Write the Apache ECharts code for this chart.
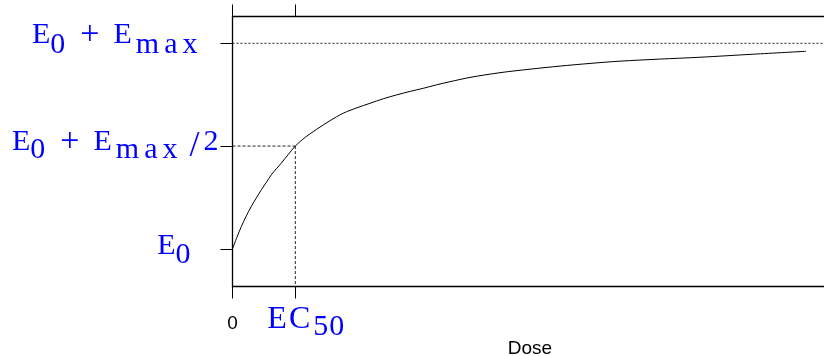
<!DOCTYPE html>
<html><head><meta charset="utf-8">
<script src="https://cdn.jsdelivr.net/npm/echarts@6/dist/echarts.min.js"></script>
<style>html,body{margin:0;padding:0;background:#fff}#c{width:824px;height:356px}</style>
</head><body><div id="c"></div>
<script>
// Dose in units of EC50; effect scaled so that E0 = 0 and E0 + Emax = 1
const curveDose   = [0, 0.070, 0.140, 0.220, 0.299, 0.380, 0.459, 0.540, 0.618, 0.700, 0.777, 0.890, 1.0, 1.160, 1.338, 1.550, 1.764, 1.980, 2.189, 2.400, 2.615, 2.830, 3.038, 3.250, 3.463, 3.782, 4.260, 4.737, 5.215, 5.693, 6.170, 6.800, 7.444, 8.300, 9.132];
const curveEffect = [0, 0.056, 0.108, 0.160, 0.206, 0.248, 0.287, 0.324, 0.360, 0.390, 0.417, 0.460, 0.500, 0.543, 0.581, 0.623, 0.660, 0.686, 0.708, 0.730, 0.749, 0.766, 0.781, 0.798, 0.813, 0.834, 0.857, 0.874, 0.889, 0.902, 0.913, 0.923, 0.932, 0.947, 0.961];
const E0 = 0, HALF_LEVEL = 0.5, TOP_LEVEL = 1, EC50 = 1;
const xTickValues = [0, EC50];
const xTickLabels = ['0', 'EC50'];
const yTickValues = [E0, HALF_LEVEL, TOP_LEVEL];
const yTickLabels = ['E0', 'E0 + Emax/2', 'E0 + Emax'];
const xAxisName = 'Dose';
const upperRef = [[0, TOP_LEVEL], [12, TOP_LEVEL]];
const halfRef  = [[0, HALF_LEVEL], [EC50, HALF_LEVEL]];
const ec50Ref  = [[EC50, HALF_LEVEL], [EC50, -1]];

const X_MAX = 600 / 62.8, Y_MIN = -0.1833, Y_MAX = 1.1303;
const BLUE = '#0000ff', SERIF = 'Liberation Serif', SANS = 'Liberation Sans';

function richSet(k, H, sub, R) {
  const t = (extra) => Object.assign({fontFamily: SERIF, fontSize: 30, color: BLUE, height: 30, lineHeight: H, verticalAlign: 'top'}, extra);
  return {
    [k+'E']:  t({padding: [0, 0, 0, 0]}),
    [k+'E2']: t({padding: [0, 0, 0, 10]}),
    [k+'p']:  t({fontSize: 34, padding: [0, 4, 0, 15]}),
    [k+'s0']: t({padding: [sub, k === 'b' ? R : 0, 0, 0]}),
    [k+'m']:  t({padding: [sub, 5, 0, 4]}),
    [k+'a']:  t({padding: [sub, 5, 0, 0]}),
    [k+'x']:  t({padding: [sub, k === 't' ? R : 0, 0, 0]}),
    [k+'sl']: t({fontSize: 36, padding: [4, 0, 0, 12]}),
    [k+'two']:t({padding: [0, R, 0, 4]})
  };
}
const yRich = Object.assign({}, richSet('t', 46, 10, 21), richSet('m', 38, 8, 0), richSet('b', 34.6, 9, 28));

function yLabel(v) {
  const txt = yTickLabels[yTickValues.indexOf(v)];
  if (txt === 'E0') return '{bE|E}{bs0|0}';
  if (txt === 'E0 + Emax/2') return '{mE|E}{ms0|0}{mp|+}{mE2|E}{mm|m}{ma|a}{mx|x}{msl|/}{mtwo|2}';
  return '{tE|E}{ts0|0}{tp|+}{tE2|E}{tm|m}{ta|a}{tx|x}';
}
function xLabel(v) {
  const txt = xTickLabels[xTickValues.indexOf(v)];
  if (txt === 'EC50') return '{eE|E}{eC|C}{e5|5}{e0|0}';
  return '{z|' + txt + '}';
}
const xs = (extra) => Object.assign({fontFamily: SERIF, fontSize: 32, color: BLUE, height: 30, lineHeight: 30, verticalAlign: 'top'}, extra);
const xRich = {
  z:  {fontFamily: SANS, fontSize: 19, color: '#000', height: 20, lineHeight: 30, verticalAlign: 'top', padding: [10.2, 0, 0, 0]},
  eE: xs({padding: [1.1, 0, 0, 21]}),
  eC: xs({padding: [1.1, 0, 0, 2]}),
  e5: xs({fontSize: 30, padding: [8.7, 0, 0, 3]}),
  e0: xs({fontSize: 30, padding: [8.7, 0, 0, 1]})
};

const chart = echarts.init(document.getElementById('c'), null, {renderer: 'canvas'});
const tickStyle = {color: '#000', width: 1};
chart.setOption({
  animation: false,
  backgroundColor: '#fff',
  grid: {left: 232.5, top: 16.5, width: 600, height: 270, show: true, borderColor: '#000', borderWidth: 1.3,
         backgroundColor: 'transparent', containLabel: false, outerBoundsMode: 'none'},
  xAxis: [{
    type: 'value', min: 0, max: X_MAX, position: 'bottom',
    axisLine: {show: false, onZero: false}, splitLine: {show: false},
    axisTick: {show: true, length: 12, customValues: xTickValues, lineStyle: tickStyle},
    axisLabel: {show: true, customValues: xTickValues, formatter: xLabel, rich: xRich, margin: 16.6},
    name: xAxisName, nameLocation: 'middle', nameGap: 52, nameMoveOverlap: false,
    nameTextStyle: {fontFamily: SANS, fontSize: 19, color: '#000', lineHeight: 20, padding: [0, 5, 0, 0]}
  }, {
    type: 'value', min: 0, max: X_MAX, position: 'top',
    axisLine: {show: false, onZero: false}, splitLine: {show: false},
    axisTick: {show: true, length: 12, customValues: xTickValues, lineStyle: tickStyle},
    axisLabel: {show: false}
  }],
  yAxis: {
    type: 'value', min: Y_MIN, max: Y_MAX,
    axisLine: {show: false, onZero: false}, splitLine: {show: false},
    axisTick: {show: true, length: 12, customValues: yTickValues, lineStyle: tickStyle},
    axisLabel: {show: true, customValues: yTickValues, formatter: yLabel, rich: yRich, margin: 14}
  },
  series: [
    {type: 'line', data: upperRef, showSymbol: false, silent: true, clip: true,
     lineStyle: {color: '#222', width: 1, type: [2, 2]}},
    {type: 'line', data: halfRef, showSymbol: false, silent: true, clip: true,
     lineStyle: {color: '#222', width: 1, type: [3, 2]}},
    {type: 'line', data: ec50Ref, showSymbol: false, silent: true, clip: true,
     lineStyle: {color: '#222', width: 1, type: [3, 2]}},
    {type: 'line', data: curveDose.map((d, i) => [d, curveEffect[i]]), showSymbol: false, smooth: 0.3, clip: true,
     lineStyle: {color: '#000', width: 1}}
  ]
});
</script></body></html>
